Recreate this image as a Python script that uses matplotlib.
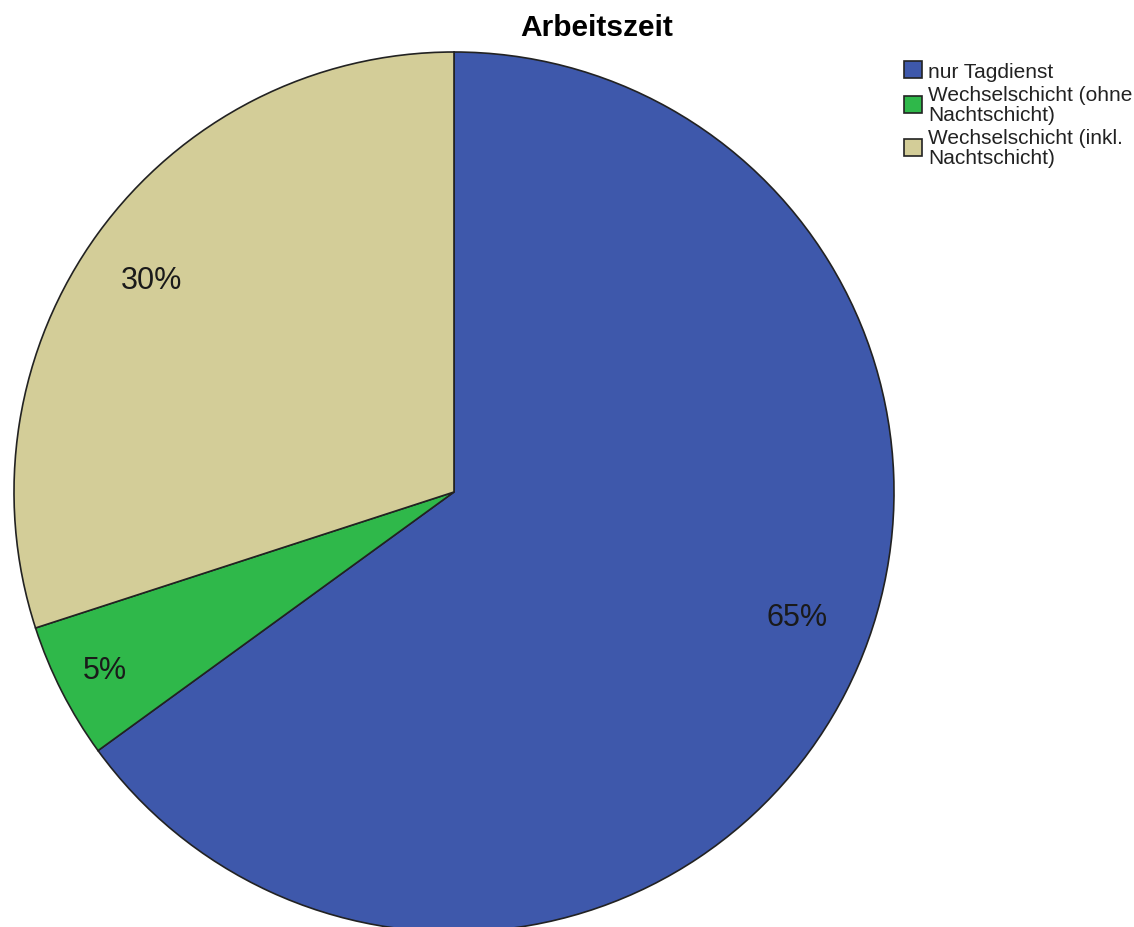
import matplotlib
matplotlib.use("Agg")
import matplotlib.pyplot as plt
import numpy as np

plt.rcParams["font.family"] = ["Liberation Sans", "DejaVu Sans"]

# Arbeitszeit — Anteile
categories = ["nur Tagdienst",
              "Wechselschicht (ohne\nNachtschicht)",
              "Wechselschicht (inkl.\nNachtschicht)"]
shares = [65, 5, 30]
colors = ["#3e58ab", "#2fb84a", "#d3cd98"]

W, H = 1134, 928
fig = plt.figure(figsize=(W / 100, H / 100), dpi=100)
ax = fig.add_axes([0, 0, 1, 1])

cx, cy, r = 454, H - 493, 440
wedges, _ = ax.pie(shares, colors=colors, startangle=90, counterclock=False,
                   center=(cx, cy), radius=r, frame=True,
                   wedgeprops=dict(edgecolor="#222222", linewidth=1.2))
ax.set_xlim(0, W)
ax.set_ylim(0, H)
ax.set_aspect("equal")
ax.axis("off")

# label placement: angle shift (deg) from wedge middle and radius fraction
label_pos = [(7, 0.83), (0, 0.89), (1, 0.84)]
for w, s, (dang, frac) in zip(wedges, shares, label_pos):
    mid = np.deg2rad((w.theta1 + w.theta2) / 2 + dang)
    ax.text(cx + frac * r * np.cos(mid), cy + frac * r * np.sin(mid), f"{s}%",
            ha="center", va="center", fontsize=22, color="#1a1a1a")

fig.text(597 / W, 1 - 28 / H, "Arbeitszeit", ha="center", va="center",
         fontsize=21.5, fontweight="bold")

leg = fig.legend(wedges, categories, loc="upper left",
                 bbox_to_anchor=(894 / W, 1 - 52 / H), frameon=False,
                 fontsize=15, handlelength=0.85, handleheight=0.85,
                 handletextpad=0.3, labelspacing=0.2, borderpad=0)
for t in leg.get_texts():
    t.set_linespacing(1.05)
    t.set_color("#222222")

fig.savefig("out.png", dpi=100)
